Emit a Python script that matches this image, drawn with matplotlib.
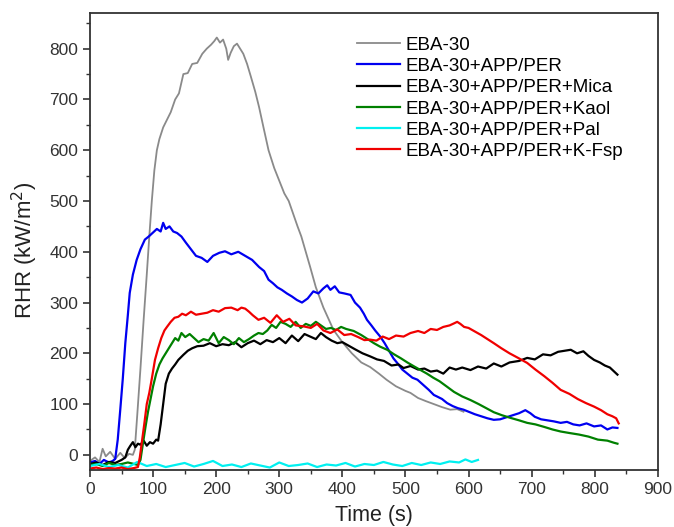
import matplotlib

matplotlib.use("Agg")
import matplotlib.pyplot as plt
from matplotlib.ticker import MultipleLocator

plt.rcParams["font.family"] = ["Liberation Sans", "DejaVu Sans"]

# RHR curves (time in s, RHR in kW/m2)
gray_t = [0, 8, 15, 20, 25, 32, 40, 48, 55, 62,
          68, 71, 75, 80, 85, 90, 94, 98, 102, 106,
          110, 116, 122, 128, 135, 141, 148, 155, 162, 170,
          178, 185, 192, 197, 201, 206, 211, 216, 219, 223,
          228, 233, 238, 243, 249, 255, 262, 268, 275, 283,
          292, 300, 308, 315, 322, 329, 335, 342, 349, 358,
          370, 386, 400, 415, 430, 444, 458, 470, 485, 500,
          508, 520, 532, 545, 558, 571, 582, 592]
gray_v = [-12, -5, -14, 12, -3, 6, -8, 4, -6, 2,
          0, 10, 80, 170, 265, 355, 430, 500, 560, 600,
          622, 645, 660, 675, 700, 712, 750, 752, 770, 772,
          790, 800, 808, 815, 822, 812, 818, 800, 778, 792,
          805, 810, 800, 790, 770, 745, 715, 685, 645, 600,
          565, 540, 515, 500, 475, 450, 430, 400, 370, 330,
          290, 246, 222, 200, 182, 173, 160, 148, 135, 126,
          122, 112, 106, 100, 94, 89, 90, 85]

blue_t = [0, 8, 15, 22, 30, 36, 40, 44, 48, 52,
          56, 60, 63, 68, 74, 80, 87, 93, 100, 106,
          112, 116, 120, 126, 132, 138, 145, 152, 160, 168,
          177, 186, 195, 205, 214, 224, 235, 246, 257, 268,
          276, 283, 290, 297, 304, 312, 320, 328, 336, 345,
          354, 362, 370, 376, 381, 388, 395, 403, 413, 420,
          428, 434, 439, 446, 452, 460, 467, 474, 481, 487,
          495, 503, 511, 519, 528, 537, 545, 550, 558, 566,
          575, 583, 592, 600, 610, 620, 630, 640, 650, 660,
          670, 680, 690, 698, 705, 715, 725, 735, 746, 756,
          766, 776, 787, 799, 810, 820, 828, 836]
blue_v = [-15, -12, -18, -10, -15, -12, -8, 30, 89, 150,
          220, 275, 319, 355, 384, 405, 424, 430, 438, 445,
          440, 457, 445, 450, 440, 437, 430, 418, 405, 392,
          388, 380, 392, 398, 401, 395, 400, 392, 384, 370,
          362, 345, 338, 330, 325, 318, 312, 305, 300, 308,
          322, 318, 328, 334, 325, 332, 320, 318, 315, 300,
          290, 278, 266, 255, 245, 233, 220, 205, 190, 181,
          168, 160, 152, 148, 138, 128, 118, 115, 110, 102,
          96, 92, 89, 85, 80, 76, 72, 69, 70, 74,
          78, 82, 88, 82, 75, 70, 68, 66, 63, 65,
          60, 58, 62, 56, 58, 50, 54, 53]

black_t = [0, 10, 20, 30, 40, 50, 56, 60, 64, 68,
           72, 76, 80, 85, 90, 95, 100, 105, 108, 112,
           116, 120, 125, 130, 135, 140, 148, 155, 162, 170,
           180, 190, 200, 210, 220, 230, 240, 250, 260, 270,
           280, 290, 300, 310, 320, 330, 340, 349, 358, 366,
           374, 383, 392, 400, 410, 420, 432, 444, 455, 466,
           478, 489, 497, 508, 520, 530, 540, 550, 560, 570,
           580, 590, 603, 615, 628, 640, 652, 665, 680, 693,
           705, 718, 730, 742, 752, 762, 772, 782, 790, 799,
           808, 816, 824, 830, 836]
black_v = [-18, -15, -20, -14, -16, -10, -5, 10, 18, 25,
           15, 22, 20, 28, 18, 25, 22, 30, 28, 60,
           100, 140, 160, 170, 178, 187, 197, 205, 210, 214,
           215, 220, 214, 218, 216, 222, 212, 220, 225, 218,
           226, 222, 230, 220, 235, 224, 238, 233, 228, 240,
           232, 225, 220, 222, 215, 208, 200, 194, 188, 185,
           176, 178, 171, 175, 168, 170, 164, 166, 160, 172,
           168, 172, 167, 174, 170, 180, 174, 182, 185, 191,
           188, 198, 196, 203, 205, 207, 200, 204, 195, 187,
           182, 176, 172, 165, 158]

green_t = [0, 10, 20, 30, 40, 50, 60, 70, 76, 80,
           84, 88, 92, 96, 100, 105, 110, 115, 120, 125,
           130, 135, 140, 145, 151, 158, 165, 172, 180, 188,
           196, 204, 212, 220, 228, 236, 244, 252, 260, 267,
           274, 281, 288, 295, 302, 310, 318, 326, 334, 342,
           350, 358, 366, 374, 382, 390, 398, 406, 418, 430,
           440, 450, 460, 471, 482, 493, 503, 514, 524, 534,
           544, 554, 565, 577, 590, 603, 616, 628, 640, 653,
           666, 680, 693, 706, 720, 733, 746, 760, 775, 790,
           805, 820, 830, 836]
green_v = [-20, -18, -22, -16, -20, -18, -15, -18, -20, -10,
           23, 55, 85, 110, 135, 160, 178, 190, 200, 210,
           220, 230, 225, 240, 232, 238, 230, 222, 228, 225,
           240, 220, 232, 226, 218, 230, 222, 228, 235, 240,
           238, 245, 256, 250, 262, 258, 252, 262, 250, 258,
           254, 262, 255, 248, 250, 246, 252, 248, 244, 236,
           228, 220, 213, 207, 198, 190, 182, 174, 167, 160,
           152, 145, 135, 124, 115, 108, 100, 92, 84, 78,
           73, 68, 63, 60, 55, 50, 46, 43, 40, 36,
           30, 28, 24, 22]

red_t = [0, 10, 20, 30, 40, 50, 60, 70, 76, 79,
         82, 86, 90, 94, 98, 103, 108, 113, 118, 122,
         128, 134, 140, 146, 152, 160, 168, 177, 186, 195,
         204, 214, 224, 234, 240, 246, 252, 258, 267, 276,
         286, 296, 306, 316, 326, 339, 350, 360, 370, 381,
         392, 403, 414, 425, 435, 444, 454, 464, 474, 485,
         497, 508, 520, 530, 540, 550, 560, 570, 577, 582,
         587, 593, 600, 610, 620, 630, 640, 652, 665, 680,
         693, 706, 720, 733, 746, 760, 773, 786, 799, 810,
         820, 828, 834, 838]
red_v = [-27, -25, -28, -26, -27, -25, -28, -26, -24, -5,
         23, 60, 100, 122, 150, 187, 210, 230, 245, 252,
         262, 270, 272, 278, 275, 282, 276, 278, 280, 285,
         282, 289, 290, 285, 290, 288, 282, 275, 266, 270,
         260, 275, 262, 268, 255, 253, 250, 258, 245, 240,
         247, 236, 238, 232, 226, 227, 225, 233, 228, 235,
         233, 240, 244, 240, 248, 246, 252, 255, 259, 262,
         258, 252, 250, 243, 236, 228, 220, 210, 200, 190,
         181, 168, 155, 142, 128, 120, 110, 102, 95, 88,
         80, 76, 72, 62]

cyan_t = [0, 15, 30, 45, 60, 75, 90, 105, 120, 135,
          150, 165, 180, 195, 210, 225, 240, 255, 270, 285,
          300, 315, 330, 345, 360, 375, 390, 405, 420, 435,
          450, 465, 480, 495, 510, 525, 540, 555, 570, 585,
          595, 605, 615]
cyan_v = [-22, -18, -24, -20, -25, -14, -22, -18, -24, -20,
          -16, -23, -18, -12, -22, -19, -24, -17, -21, -25,
          -15, -22, -20, -17, -24, -19, -21, -16, -23, -18,
          -20, -14, -19, -22, -16, -20, -15, -18, -13, -15,
          -9, -14, -10]

series = [
    ("EBA-30", gray_t, gray_v, "#8a8a8a", 1.3),
    ("EBA-30+APP/PER", blue_t, blue_v, "#0000f0", 1.6),
    ("EBA-30+APP/PER+Mica", black_t, black_v, "#000000", 1.6),
    ("EBA-30+APP/PER+Kaol", green_t, green_v, "#008000", 1.6),
    ("EBA-30+APP/PER+Pal", cyan_t, cyan_v, "#00f0f0", 1.6),
    ("EBA-30+APP/PER+K-Fsp", red_t, red_v, "#f00000", 1.6),
]

fig = plt.figure(figsize=(6.74, 5.27), dpi=100)
ax = fig.add_axes([0.1335, 0.108, 0.8425, 0.867])

for label, t, v, color, lw in series:
    ax.plot(t, v, color=color, linewidth=lw, label=label)

ax.set_xlim(0, 900)
ax.set_ylim(-30, 870)
ax.xaxis.set_major_locator(MultipleLocator(100))
ax.xaxis.set_minor_locator(MultipleLocator(50))
ax.yaxis.set_major_locator(MultipleLocator(100))
ax.yaxis.set_minor_locator(MultipleLocator(50))
ax.tick_params(which="major", direction="out", length=5, width=1.2,
               labelsize=12.5, colors="#333333")
ax.tick_params(which="minor", direction="out", length=3, width=1.0, colors="#333333")
for spine in ax.spines.values():
    spine.set_color("#333333")
    spine.set_linewidth(1.3)

ax.set_xlabel("Time (s)", fontsize=15.5, color="#222222", labelpad=6)
ax.set_ylabel("RHR (kW/m$^2$)", fontsize=16, color="#222222")
ax.yaxis.set_label_coords(-0.088, 0.48)

ax.legend(loc="upper left", bbox_to_anchor=(0.457, 0.965), frameon=False,
          fontsize=13.5, handlelength=2.3, handletextpad=0.27,
          labelspacing=0.22, borderaxespad=0)

fig.savefig("out.png", dpi=100)
